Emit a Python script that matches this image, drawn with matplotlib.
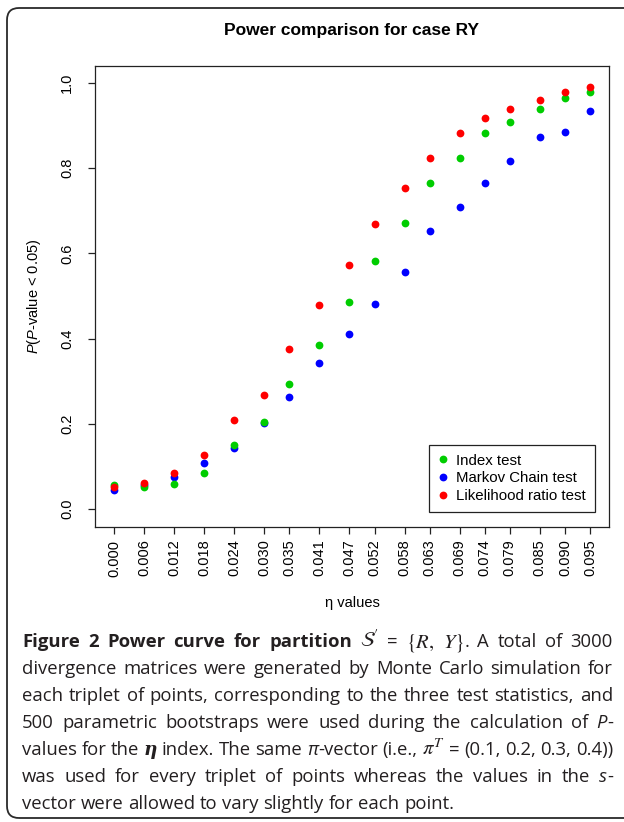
import matplotlib
matplotlib.use("Agg")
from matplotlib import pyplot as plt
from matplotlib.patches import FancyBboxPatch
from matplotlib.lines import Line2D

plt.rcParams['font.family'] = ['Liberation Sans', 'DejaVu Sans']
plt.rcParams['mathtext.fontset'] = 'custom'
plt.rcParams['mathtext.rm'] = 'Liberation Sans'
plt.rcParams['mathtext.it'] = 'Liberation Sans:italic'

# Data
eta = [0.000, 0.006, 0.012, 0.018, 0.024, 0.030, 0.035, 0.041, 0.047,
       0.052, 0.058, 0.063, 0.069, 0.074, 0.079, 0.085, 0.090, 0.095]
index_test = [0.057, 0.052, 0.059, 0.085, 0.150, 0.205, 0.294, 0.385, 0.485,
              0.582, 0.671, 0.765, 0.825, 0.882, 0.908, 0.939, 0.966, 0.980]
markov_test = [0.045, 0.057, 0.076, 0.108, 0.143, 0.202, 0.262, 0.342, 0.411,
               0.482, 0.556, 0.653, 0.708, 0.766, 0.818, 0.873, 0.884, 0.934]
lr_test = [0.052, 0.061, 0.084, 0.127, 0.208, 0.268, 0.375, 0.479, 0.574,
           0.668, 0.754, 0.823, 0.883, 0.918, 0.940, 0.960, 0.980, 0.991]
y_ticks = [0.0, 0.2, 0.4, 0.6, 0.8, 1.0]
labels = ["Index test", "Markov Chain test", "Likelihood ratio test"]
colors = ["#00CD00", "#0000FF", "#FF0000"]

W, H = 624, 822
fig = plt.figure(figsize=(W / 100, H / 100), dpi=100)

# rounded frame round the whole figure
frame = FancyBboxPatch((0.07, 0.04), 6.5, 8.10,
                       boxstyle="round,pad=0,rounding_size=0.12",
                       transform=fig.dpi_scale_trans, fill=False,
                       edgecolor="#2a2a2a", linewidth=1.3)
fig.patches.append(frame)

ax = fig.add_axes([95 / W, 1 - 527 / H, 514 / W, 461 / H])
ax.plot(eta, markov_test, "o", color=colors[1], ms=5.6, mew=0, zorder=3)
ax.plot(eta, index_test, "o", color=colors[0], ms=5.6, mew=0, zorder=4)
ax.plot(eta, lr_test, "o", color=colors[2], ms=5.6, mew=0, zorder=5)

ax.set_xlim(-0.0038, 0.0988)
ax.set_ylim(-0.042, 1.04)
ax.set_xticks(eta)
ax.set_xticklabels([f"{v:.3f}" for v in eta], rotation=90)
ax.set_yticks(y_ticks)
ax.set_yticklabels([f"{v:.1f}" for v in y_ticks], rotation=90, va="center")
ax.tick_params(axis="both", length=5, width=0.9, color="#222222",
               labelsize=10.5)
ax.tick_params(axis="x", pad=4)
ax.tick_params(axis="y", pad=10)
for s in ax.spines.values():
    s.set_linewidth(0.9)
    s.set_color("#222222")

fig.text(352 / W, 1 - 30 / H, "Power comparison for case RY",
         ha="center", va="center", fontsize=12.5, fontweight="bold")
fig.text(352 / W, 1 - 603 / H, "\u03b7 values", ha="center", va="center",
         fontsize=10.5)
fig.text(34 / W, 1 - 296 / H, r"$P$($P$-value < 0.05)", rotation=90,
         ha="center", va="center", fontsize=10.5)

handles = [Line2D([], [], ls="none", marker="o", ms=5.6, mew=0, color=c)
           for c in colors]
leg = ax.legend(handles, labels, loc="lower right",
                bbox_to_anchor=(0.973, 0.0325), borderaxespad=0,
                fontsize=10.8, fancybox=False, framealpha=1,
                handlelength=0.6, handletextpad=0.6, labelspacing=0.25,
                borderpad=0.6)
leg.get_frame().set_edgecolor("#222222")
leg.get_frame().set_linewidth(0.9)

# caption, justified word by word
renderer = fig.canvas.get_renderer()
cap_color = "#231f20"
cap_size = 13.3
styles = {
    "reg": dict(family="Open Sans", size=cap_size, color=cap_color),
    "bold": dict(family="Open Sans", size=cap_size, weight="bold",
                 color=cap_color),
    "ital": dict(family="Open Sans", size=cap_size, style="italic",
                 color=cap_color),
    "math": dict(size=cap_size * 1.12, color=cap_color,
                 math_fontfamily="stix"),
    "eta": dict(family="DejaVu Serif", size=cap_size, weight="bold",
                style="italic", color=cap_color),
}

caption = [
    [("Figure 2 Power curve for partition ", "bold"), (r"$\mathcal{S}'$", "math"),
     (" = ", "reg"), (r"$\{R,$", "math"), (" ", "reg"), (r"$Y\}$", "math"),
     (". A total of 3000", "reg")],
    [("divergence matrices were generated by Monte Carlo simulation for", "reg")],
    [("each triplet of points, corresponding to the three test statistics, and", "reg")],
    [("500 parametric bootstraps were used during the calculation of ", "reg"),
     ("P", "ital"), ("-", "reg")],
    [("values for the ", "reg"), ("\u03b7", "eta"), (" index. The same ", "reg"),
     ("\u03c0", "ital"), ("-vector (i.e., ", "reg"), (r"$\pi^T$", "math"),
     (" = (0.1, 0.2, 0.3, 0.4))", "reg")],
    [("was used for every triplet of points whereas the values in the ", "reg"),
     ("s", "ital"), ("-", "reg")],
    [("vector were allowed to vary slightly for each point.", "reg")],
]


def width(s, st):
    t = fig.text(0, 0, s, **styles[st])
    w = t.get_window_extent(renderer).width
    t.remove()
    return w


space_w = width("a a", "reg") - width("aa", "reg")
x_left, x_right = 22, 613

for i, segs in enumerate(caption):
    words = [[]]
    for s, st in segs:
        for j, p in enumerate(s.split(" ")):
            if j > 0:
                words.append([])
            if p:
                words[-1].append((p, st))
    words = [w for w in words if w]
    widths = [[width(p, st) for p, st in w] for w in words]
    total = sum(sum(w) for w in widths)
    if i < len(caption) - 1:
        gap = (x_right - x_left - total) / (len(words) - 1)
    else:
        gap = space_w
    y = 647 + i * 27
    x = x_left
    for w, ws in zip(words, widths):
        for (p, st), pw in zip(w, ws):
            fig.text(x / W, 1 - y / H, p, ha="left", va="baseline",
                     **styles[st])
            x += pw
        x += gap

fig.savefig("out.png", dpi=100)
